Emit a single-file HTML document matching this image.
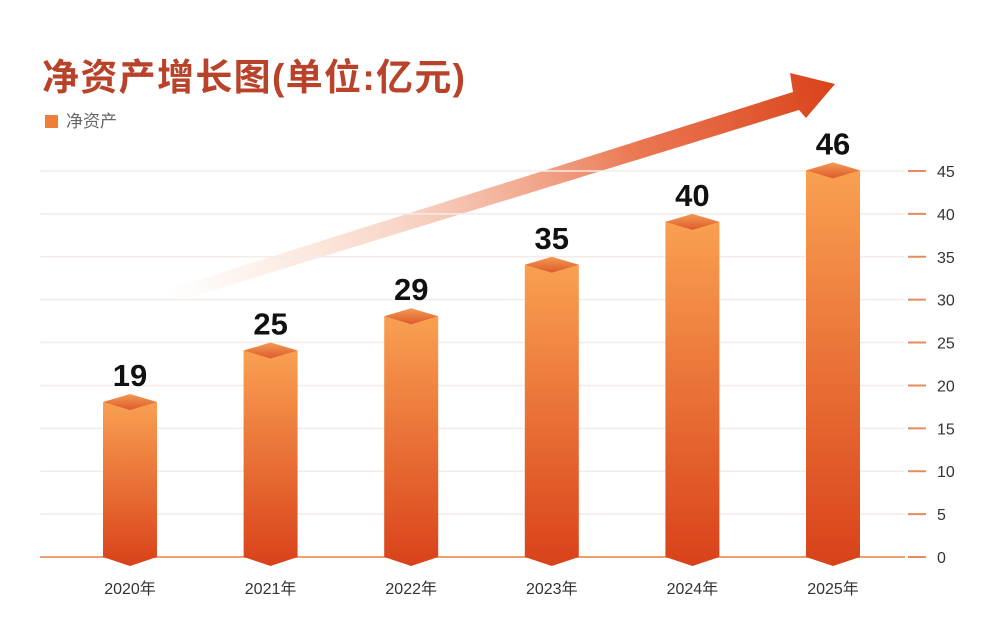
<!DOCTYPE html>
<html><head><meta charset="utf-8"><style>
body{margin:0;background:#fff;font-family:"Liberation Sans","Noto Sans CJK SC",sans-serif}
</style></head><body>
<svg width="1000" height="635" viewBox="0 0 1000 635">
<defs>
<linearGradient id="bar" x1="0" y1="0" x2="0" y2="1"><stop offset="0" stop-color="#f9a052"/><stop offset="1" stop-color="#d9421a"/></linearGradient>
<linearGradient id="top" x1="0" y1="0" x2="0" y2="1"><stop offset="0" stop-color="#f59a54"/><stop offset="1" stop-color="#dc5a2a"/></linearGradient>
<linearGradient id="arr" x1="170" y1="300" x2="835" y2="85" gradientUnits="userSpaceOnUse"><stop offset="0" stop-color="#f5b48f" stop-opacity="0"/><stop offset="0.35" stop-color="#f0a080" stop-opacity="0.45"/><stop offset="0.7" stop-color="#e8693f" stop-opacity="0.9"/><stop offset="1" stop-color="#d9421a"/></linearGradient>
</defs>
<text x="42" y="90" font-size="37" font-weight="bold" fill="#b8432a" textLength="423">净资产增长图(单位:亿元)</text>
<rect x="45" y="115" width="13" height="13" fill="#ee7f38"/>
<text x="66" y="127" font-size="17" fill="#666">净资产</text>
<polygon points="172,303 166,290 793,92 790,73 835,84 806,118 799,110" fill="url(#arr)"/>
<g id="grid"></g><g id="bars"></g>
</svg>
<script>
const categories=["2020年","2021年","2022年","2023年","2024年","2025年"];
const values=[19,25,29,35,40,46];
const ticks=[0,5,10,15,20,25,30,35,40,45];
const ns="http://www.w3.org/2000/svg";
const y=v=>557-v*(386/45);
const x=i=>130+i*140.6;
function mk(t,a,p){const e=document.createElementNS(ns,t);for(const k in a)e.setAttribute(k,a[k]);(p||document.querySelector('svg')).appendChild(e);return e;}
const g=document.getElementById('grid'),b=document.getElementById('bars');
ticks.forEach(t=>{
 const l=mk('line',{x1:40,x2:905,y1:y(t),y2:y(t),stroke:t===0?'#f0a070':'#f3ece8','stroke-width':t===0?2:1.5},g);
 
 
 const tk=mk('line',{x1:908,x2:926,y1:y(t),y2:y(t),stroke:'#e88a5a','stroke-width':2},g);
 
 
 const tx=mk('text',{x:937,y:y(t)+6,'font-size':16,fill:'#333'},g);tx.textContent=t;
 
 
});
values.forEach((v,i)=>{
 const cx=x(i),w=27,cy=y(v)+8,h=8;
 const body=mk('polygon',{points:`${cx-w},${cy} ${cx+w},${cy} ${cx+w},557 ${cx},566 ${cx-w},557`,fill:'url(#bar)'},b);
 
 
 const top=mk('polygon',{points:`${cx-w},${cy} ${cx},${cy-h} ${cx+w},${cy} ${cx},${cy+h}`,fill:'url(#top)'},b);
 
 
 const lb=mk('text',{x:cx,y:cy-16,'font-size':31,'font-weight':'bold','text-anchor':'middle',fill:'#111'},b);lb.textContent=v;
 
 
 const xl=mk('text',{x:cx,y:594,'font-size':16,'text-anchor':'middle',fill:'#333'},b);xl.textContent=categories[i];
 
 
});
</script>
</body></html>
